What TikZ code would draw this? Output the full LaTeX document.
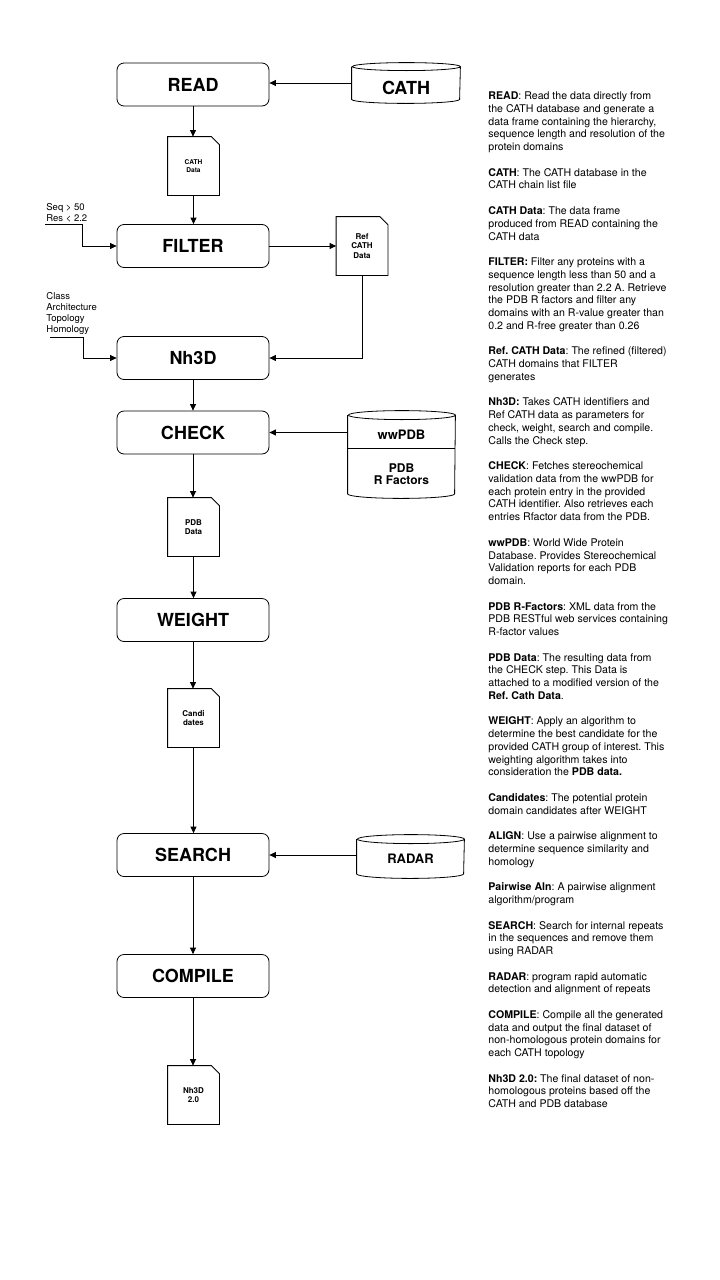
\documentclass[tikz,border=0pt]{standalone}
\usepackage{fontspec}
\setmainfont{TeX Gyre Heros}
\usetikzlibrary{arrows.meta}
\frenchspacing

\begin{document}
\begin{tikzpicture}
  [x=1pt,y=-1pt,line width=0.8pt,
   proc/.style={draw,rounded corners=7pt,minimum width=152pt,minimum height=43pt,
     inner sep=0,font=\fontsize{18}{20}\selectfont\bfseries},
   docfile/.style={minimum width=51pt,minimum height=58pt,inner sep=0,align=center,
     font=\fontsize{8}{9.5}\selectfont\bfseries},
   drum/.style={minimum width=107pt,inner sep=0},
   drumtext/.style={inner sep=0,align=center,font=\fontsize{13}{12}\selectfont\bfseries},
   inlbl/.style={anchor=north west,inner sep=0,align=left,font=\fontsize{9.5}{11}\selectfont},
   notes/.style={anchor=north west,inner sep=0,align=left,font=\fontsize{10.6}{12.76}\selectfont},
   arr/.style={-{Triangle[length=6.5pt,width=6pt]}}]
  \fill[white] (0,0) rectangle (720,1280);
  \useasboundingbox (0,0) rectangle (720,1280);

  % process steps
  \node[proc] (read) at (193,84.5) {READ};
  \node[proc] (filter) at (193,246) {FILTER};
  \node[proc] (nh3d) at (193,358) {Nh3D};
  \node[proc] (check) at (193,432.5) {CHECK};
  \node[proc] (weight) at (193,620) {WEIGHT};
  \node[proc] (search) at (193,855) {SEARCH};
  \node[proc] (compile) at (193,976) {COMPILE};

  % data files
  \node[docfile,font=\fontsize{6.6}{8}\selectfont\bfseries] (cathdata) at (193.5,166) {CATH\\Data};
  \node[docfile] (refdata) at (362,246) {Ref\\CATH\\Data};
  \node[docfile] (pdbdata) at (193.5,527) {PDB\\Data};
  \node[docfile] (cands) at (193.5,718) {Candi\\dates};
  \node[docfile] (final) at (193.5,1095) {Nh3D\\2.0};
  \foreach \d in {cathdata,refdata,pdbdata,cands,final}
    \draw (\d.north west) -- ([xshift=-8pt]\d.north east) -- ([yshift=-8pt]\d.north east)
      -- (\d.south east) -- (\d.south west) -- cycle;

  % databases
  \node[drum,minimum width=108pt,minimum height=40pt] (cath) at (406,83) {};
  \node[drum,minimum height=87pt] (wwpdb) at (401.5,454.5) {};
  \node[drum,minimum height=43pt] (radar) at (410.5,856.5) {};
  \foreach \c/\rx/\ry in {cath/54/4,wwpdb/53.5/4.5,radar/53.5/4.5}
    \draw ([yshift=-\ry pt]\c.north west) -- ([yshift=\ry pt]\c.south west)
      arc[start angle=180,end angle=360,x radius=\rx pt,y radius=\ry pt]
      -- ([yshift=-\ry pt]\c.north east)
      arc[start angle=0,end angle=360,x radius=\rx pt,y radius=\ry pt];
  \draw ([yshift=6.5pt]wwpdb.west) -- ([yshift=6.5pt]wwpdb.east);
  \node[drumtext,font=\fontsize{18}{20}\selectfont\bfseries] (cathtxt) at ([yshift=-5pt]cath.center) {CATH};
  \node[drumtext] (wwtxt) at ([yshift=19.5pt]wwpdb.center) {wwPDB};
  \node[drumtext,font=\fontsize{12}{12}\selectfont\bfseries] (rftxt) at ([yshift=-19.5pt]wwpdb.center) {PDB\\R Factors};
  \node[drumtext] (radartxt) at ([yshift=-2.5pt]radar.center) {RADAR};

  % inputs
  \node[inlbl] (seqlbl) at (46,203) {Seq > 50\\Res < 2.2};
  \node[inlbl] (classlbl) at (46,291.5) {Class\\Architecture\\Topology\\Homology};
  \coordinate (seqin) at (45,224);
  \coordinate (classin) at (50,337);

  % connectors
  \foreach \from/\to in {read/cathdata,cathdata/filter,nh3d/check,check/pdbdata,
      pdbdata/weight,weight/cands,cands/search,search/compile,compile/final}
    \draw[arr] (\from.south) -- (\from.south |- \to.north);
  \draw[arr] (cath.west) -- (cath.west -| read.east);
  \draw[arr] (filter.east) -- (refdata.west);
  \draw[arr] (refdata.south) |- (nh3d.east);
  \draw[arr] (wwpdb.west |- check.east) -- (check.east);
  \draw[arr] (radar.west |- search.east) -- (search.east);
  \draw[arr] (seqin) -| ([xshift=-34pt]filter.west) -- (filter.west);
  \draw[arr] (classin) -| ([xshift=-33pt]nh3d.west) -- (nh3d.west);

  % legend
  \node[notes] (legend) at (488,91.5) {%
    \textbf{READ}: Read the data directly from\\
    the CATH database and generate a\\
    data frame containing the hierarchy,\\
    sequence length and resolution of the\\
    protein domains\\[\baselineskip]
    \textbf{CATH}: The CATH database in the\\
    CATH chain list file\\[\baselineskip]
    \textbf{CATH Data}: The data frame\\
    produced from READ containing the\\
    CATH data\\[\baselineskip]
    \textbf{FILTER:} Filter any proteins with a\\
    sequence length less than 50 and a\\
    resolution greater than 2.2 A. Retrieve\\
    the PDB R factors and filter any\\
    domains with an R-value greater than\\
    0.2 and R-free greater than 0.26\\[\baselineskip]
    \textbf{Ref. CATH Data}: The refined (filtered)\\
    CATH domains that FILTER\\
    generates\\[\baselineskip]
    \textbf{Nh3D:} Takes CATH identifiers and\\
    Ref CATH data as parameters for\\
    check, weight, search and compile.\\
    Calls the Check step.\\[\baselineskip]
    \textbf{CHECK}: Fetches stereochemical\\
    validation data from the wwPDB for\\
    each protein entry in the provided\\
    CATH identifier. Also retrieves each\\
    entries Rfactor data from the PDB.\\[\baselineskip]
    \textbf{wwPDB}: World Wide Protein\\
    Database. Provides Stereochemical\\
    Validation reports for each PDB\\
    domain.\\[\baselineskip]
    \textbf{PDB R-Factors}: XML data from the\\
    PDB RESTful web services containing\\
    R-factor values\\[\baselineskip]
    \textbf{PDB Data}: The resulting data from\\
    the CHECK step. This Data is\\
    attached to a modified version of the\\
    \textbf{Ref. Cath Data}.\\[\baselineskip]
    \textbf{WEIGHT}: Apply an algorithm to\\
    determine the best candidate for the\\
    provided CATH group of interest. This\\
    weighting algorithm takes into\\
    consideration the \textbf{PDB data.}\\[\baselineskip]
    \textbf{Candidates}: The potential protein\\
    domain candidates after WEIGHT\\[\baselineskip]
    \textbf{ALIGN}: Use a pairwise alignment to\\
    determine sequence similarity and\\
    homology\\[\baselineskip]
    \textbf{Pairwise Aln}: A pairwise alignment\\
    algorithm/program\\[\baselineskip]
    \textbf{SEARCH}: Search for internal repeats\\
    in the sequences and remove them\\
    using RADAR\\[\baselineskip]
    \textbf{RADAR}: program rapid automatic\\
    detection and alignment of repeats\\[\baselineskip]
    \textbf{COMPILE}: Compile all the generated\\
    data and output the final dataset of\\
    non-homologous protein domains for\\
    each CATH topology\\[\baselineskip]
    \textbf{Nh3D 2.0:} The final dataset of non-\\
    homologous proteins based off the\\
    CATH and PDB database};
\end{tikzpicture}
\end{document}
